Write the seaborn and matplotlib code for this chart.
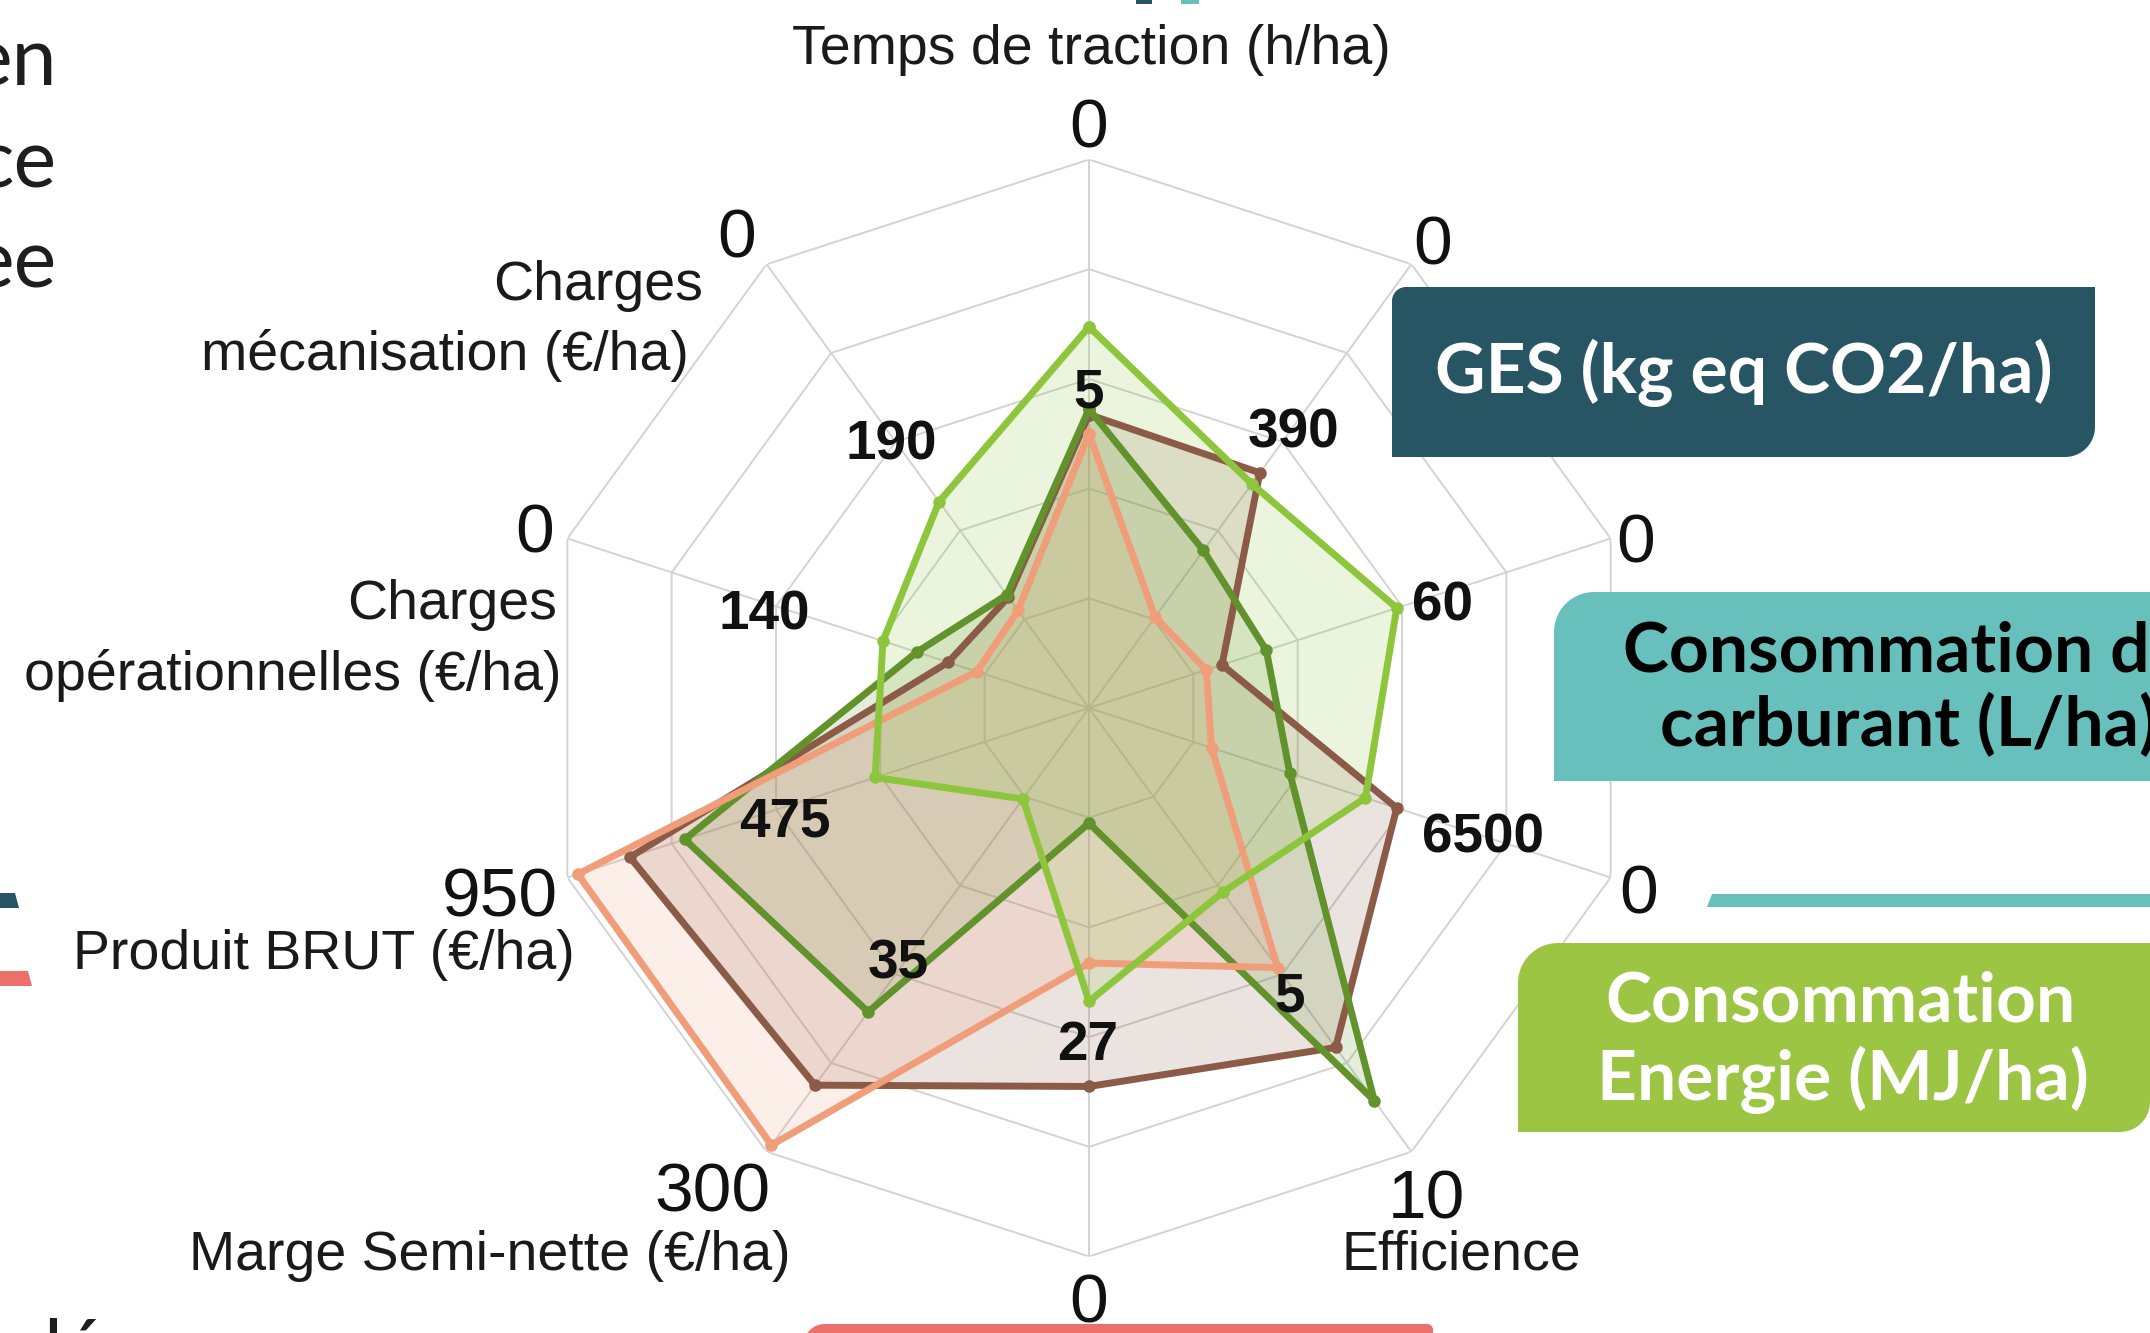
import numpy as np
import pandas as pd
import matplotlib
matplotlib.use("Agg")
import matplotlib.pyplot as plt
from matplotlib.patches import Polygon
import seaborn as sns

# ---------------------------------------------------------------- data
axis_titles = [
    "Temps de traction (h/ha)",
    "GES (kg eq CO2/ha)",
    "Consommation de carburant (L/ha)",
    "Consommation Energie (MJ/ha)",
    "Efficience",
    "",
    "Marge Semi-nette (€/ha)",
    "Produit BRUT (€/ha)",
    "Charges opérationnelles (€/ha)",
    "Charges mécanisation (€/ha)",
]
mid_labels = ["5", "390", "60", "6500", "5", "27", "35", "475", "140", "190"]
outer_labels = ["0", "0", "0", "0", "10", "0", "300", "950", "0", "0"]

# normalised scores (0 = centre, 100 = outer ring)
serie_brune = [53.5, 53, 25.5, 59, 76.5, 69, 85, 88, 27, 25]
serie_vert_fonce = [54.5, 35.5, 34, 38.5, 88.5, 21, 68.5, 77.5, 33, 25.5]
serie_orange = [50, 20.5, 22.5, 23.5, 58.5, 46.5, 98.5, 98, 21.5, 22]
serie_vert_clair = [69.5, 50.5, 59, 53, 41.5, 53.5, 20.5, 41, 39.5, 46.5]

series = [
    ("brune", serie_brune, "#8b5b48"),
    ("vert foncé", serie_vert_fonce, "#62922c"),
    ("orange", serie_orange, "#f09d7a"),
    ("vert clair", serie_vert_clair, "#8dc63c"),
]

# ---------------------------------------------------------------- figure
W, H, DPI = 2150, 1333, 100
sns.set_theme(style="white")
plt.rcParams["font.family"] = ["Liberation Sans", "DejaVu Sans"]

fig = plt.figure(figsize=(W / DPI, H / DPI), dpi=DPI)
fig.patch.set_facecolor("white")

cx, cy, R = 1089, 708, 548.5
ax = fig.add_axes([(cx - R) / W, (H - cy - R) / H, 2 * R / W, 2 * R / H],
                  projection="polar", zorder=1)
ax.set_theta_zero_location("N")
ax.set_theta_direction(-1)
ax.set_facecolor("none")
ax.grid(False)
ax.spines["polar"].set_visible(False)

n = len(axis_titles)
theta = np.arange(n) * 2 * np.pi / n
closed = np.append(theta, theta[0])

# decagonal grid and spokes
grid_c = "#d3d3d3"
for lvl in [20, 40, 60, 80, 100]:
    ax.plot(closed, [lvl] * (n + 1), color=grid_c, lw=1.4, zorder=1)
for t in theta:
    ax.plot([t, t], [0, 100], color=grid_c, lw=1.4, zorder=1)

# series
for name, vals, col in series:
    rr = list(vals) + [vals[0]]
    ax.fill(closed, rr, color=col, alpha=0.17, lw=0, zorder=2)
for i, (name, vals, col) in enumerate(series):
    df = pd.DataFrame({"theta": closed, "r": list(vals) + [vals[0]]})
    sns.lineplot(data=df, x="theta", y="r", sort=False, estimator=None, ax=ax,
                 color=col, lw=5.0, marker="o", markersize=9,
                 markeredgewidth=0, zorder=3 + i)

ax.set_xlabel("")
ax.set_ylabel("")
ax.set_xticks([])
ax.set_yticks([])
ax.set_ylim(0, 100)

# scale labels
mid_pos = [(0, 58.5), (36.1, 63.2), (73, 67.3), (107.5, 75.3), (144.7, 63.4),
           (180.3, 60.5), (217.4, 57.4), (250.3, 58.9), (286.8, 61.9), (323.6, 60.9)]
outer_pos = [(0, 106.8), (36.3, 105.9), (72.7, 104.3), (108.2, 105.4), (145.2, 107.7),
             (180, 107.4), (218.2, 110.9), (252.7, 112.5), (288, 106.2), (323.4, 107.9)]
for lab, (a, r) in zip(mid_labels, mid_pos):
    ax.text(np.deg2rad(a), r, lab, ha="center", va="center_baseline",
            fontsize=39.5, fontweight="bold", color="#111111", zorder=10)
for lab, (a, r) in zip(outer_labels, outer_pos):
    ax.text(np.deg2rad(a), r, lab, ha="center", va="center_baseline",
            fontsize=50, color="#111111", zorder=10)

# ---------------------------------------------------------------- overlay in pixel space
ov = fig.add_axes([0, 0, 1, 1], zorder=5)
ov.set_xlim(0, W)
ov.set_ylim(H, 0)
ov.axis("off")
ov.patch.set_alpha(0)

title_kw = dict(fontsize=40, color="#1a1a1a", va="baseline")
ov.text(1091, 64, axis_titles[0], ha="center", **title_kw)
ov.text(703, 300, "Charges", ha="right", **title_kw)
ov.text(689, 370, "mécanisation (€/ha)", ha="right", **title_kw)
ov.text(557, 619, "Charges", ha="right", **title_kw)
ov.text(562, 690, "opérationnelles (€/ha)", ha="right", **title_kw)
ov.text(575, 969, axis_titles[7], ha="right", **title_kw)
ov.text(791, 1270, axis_titles[6], ha="right", **title_kw)
ov.text(1341, 1270, axis_titles[4], ha="left", **title_kw)


def rrect(x0, y0, x1, y1, tl=0, tr=0, br=0, bl=0, steps=16):
    pts = []

    def corner(ccx, ccy, r, a0, a1, px, py):
        if r <= 0:
            pts.append((px, py))
            return
        for a in np.linspace(np.deg2rad(a0), np.deg2rad(a1), steps):
            pts.append((ccx + r * np.cos(a), ccy + r * np.sin(a)))

    corner(x0 + tl, y0 + tl, tl, 180, 270, x0, y0)
    corner(x1 - tr, y0 + tr, tr, 270, 360, x1, y0)
    corner(x1 - br, y1 - br, br, 0, 90, x1, y1)
    corner(x0 + bl, y1 - bl, bl, 90, 180, x0, y1)
    return pts


def box(pts, col):
    ov.add_patch(Polygon(pts, closed=True, facecolor=col, edgecolor="none"))


dark_teal, teal, green, coral = "#285563", "#67c0bc", "#9cc543", "#ec6f6c"

box(rrect(1392, 287, 2095, 457, tl=14, br=30), dark_teal)
box(rrect(1554, 592, 2170, 781, tl=40), teal)
box([(1712, 894), (2150, 894), (2150, 907), (1707, 907)], teal)
box(rrect(1518, 943, 2150, 1132, tl=40, br=30), green)
box(rrect(803, 1324, 1433, 1345, tl=22, tr=6), coral)
box([(1136, 0), (1152, 0), (1152, 4), (1136, 4)], dark_teal)
box([(1181, 0), (1199, 0), (1199, 4), (1181, 4)], teal)
box([(0, 893), (15, 893), (19, 908), (0, 908)], dark_teal)
box([(0, 971), (28, 971), (32, 986), (0, 986)], coral)

box_font = ["Lato", "DejaVu Sans"]
ov.text(1744, 393, "GES (kg eq CO2/ha)", ha="center", va="baseline",
        fontsize=50, fontweight="bold", color="white", family=box_font)
ov.text(1623, 672, "Consommation de", ha="left", va="baseline",
        fontsize=50, fontweight="bold", color="black", family=box_font)
ov.text(1660, 746, "carburant (L/ha)", ha="left", va="baseline",
        fontsize=50, fontweight="bold", color="black", family=box_font)
ov.text(1841, 1022, "Consommation", ha="center", va="baseline",
        fontsize=50, fontweight="bold", color="white", family=box_font)
ov.text(1843, 1100, "Energie (MJ/ha)", ha="center", va="baseline",
        fontsize=50, fontweight="bold", color="white", family=box_font)

# fragments of the surrounding slide text
side_font = ["Lato", "DejaVu Sans"]
for txt, yb in [("en", 85), ("ce", 188), ("ee", 288)]:
    ov.text(57, yb, txt, ha="right", va="baseline", fontsize=58,
            fontweight="normal", color="#1e1e1e", family=side_font)
ov.text(43, 1377, "lé", ha="left", va="baseline", fontsize=58,
        fontweight="normal", color="#1e1e1e", family=side_font)

fig.savefig("out.png", dpi=DPI, facecolor="white")
